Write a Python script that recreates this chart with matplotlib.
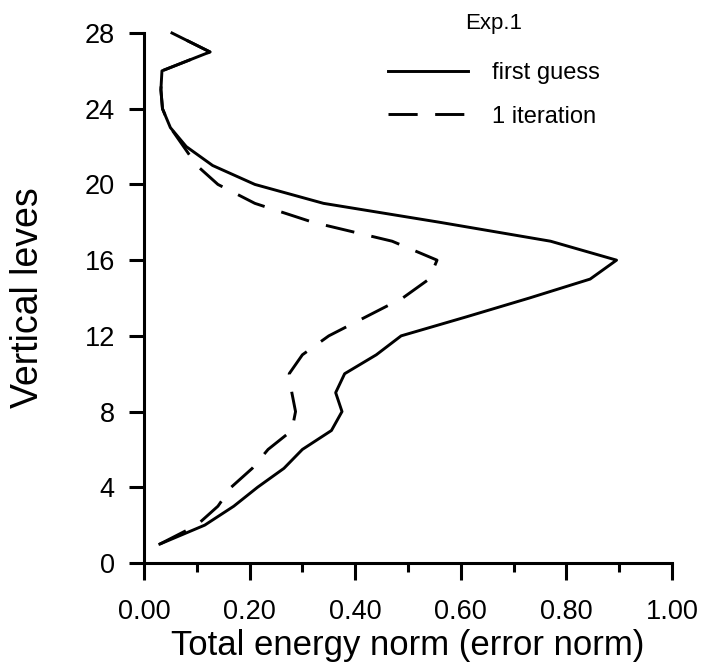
import matplotlib
matplotlib.use("Agg")
import matplotlib.pyplot as plt
from matplotlib.ticker import MultipleLocator

plt.rcParams['font.family'] = ['Liberation Sans', 'DejaVu Sans']

levels = list(range(1, 29))
first_guess = [0.03, 0.115, 0.17, 0.215, 0.265, 0.30, 0.355, 0.375, 0.363, 0.38,
               0.44, 0.487, 0.61, 0.73, 0.845, 0.895, 0.77, 0.56, 0.34, 0.21,
               0.13, 0.08, 0.05, 0.035, 0.032, 0.034, 0.125, 0.053]
one_iteration = [0.03, 0.10, 0.14, 0.165, 0.205, 0.235, 0.28, 0.287, 0.28, 0.275,
                 0.30, 0.35, 0.42, 0.49, 0.54, 0.555, 0.47, 0.32, 0.21, 0.14,
                 0.10, 0.075, 0.05, 0.035, 0.032, 0.034, 0.125, 0.053]
series_labels = ["first guess", "1 iteration"]
legend_title = "Exp.1"
xticks = [0.0, 0.2, 0.4, 0.6, 0.8, 1.0]
xticklabels = ["0.00", "0.20", "0.40", "0.60", "0.80", "1.00"]
yticks = [0, 4, 8, 12, 16, 20, 24, 28]

fig = plt.figure(figsize=(7.03, 6.68), dpi=100)
ax = fig.add_axes([144 / 703, (668 - 563) / 668, 528 / 703, 530 / 668])

ax.plot(one_iteration, levels, color='black', lw=2.1, dashes=(10, 6),
        label=series_labels[1], clip_on=False, zorder=3)
ax.plot(first_guess, levels, color='black', lw=2.1, label=series_labels[0],
        clip_on=False, zorder=4)

ax.set_xlim(0, 1)
ax.set_ylim(0, 28)
for s in ['top', 'right']:
    ax.spines[s].set_visible(False)
for s in ['left', 'bottom']:
    ax.spines[s].set_linewidth(2.2)

ax.set_xticks(xticks)
ax.set_xticklabels(xticklabels)
ax.xaxis.set_minor_locator(MultipleLocator(0.1))
ax.set_yticks(yticks)
ax.tick_params(axis='x', which='major', direction='out', length=12, width=2.2,
               labelsize=19.5, pad=14)
ax.tick_params(axis='x', which='minor', direction='out', length=6.5, width=2.2)
ax.tick_params(axis='y', which='major', direction='out', length=11, width=2.2,
               labelsize=19.5, pad=10)

ax.set_xlabel("Total energy norm (error norm)", fontsize=25, labelpad=3)
ax.set_ylabel("Vertical leves", fontsize=27, labelpad=28)

handles, labels = ax.get_legend_handles_labels()
leg = ax.legend(handles[::-1], labels[::-1], frameon=False,
                fontsize=17, handlelength=3.4,
                handletextpad=1.0, labelspacing=0.9, borderpad=0,
                loc='center left', bbox_to_anchor=(388 / 703, 1 - 95 / 668),
                bbox_transform=fig.transFigure, borderaxespad=0)
fig.text(494 / 703, 1 - 29 / 668, legend_title, ha='center', va='baseline',
         fontsize=16)

fig.savefig("out.png", dpi=100)
